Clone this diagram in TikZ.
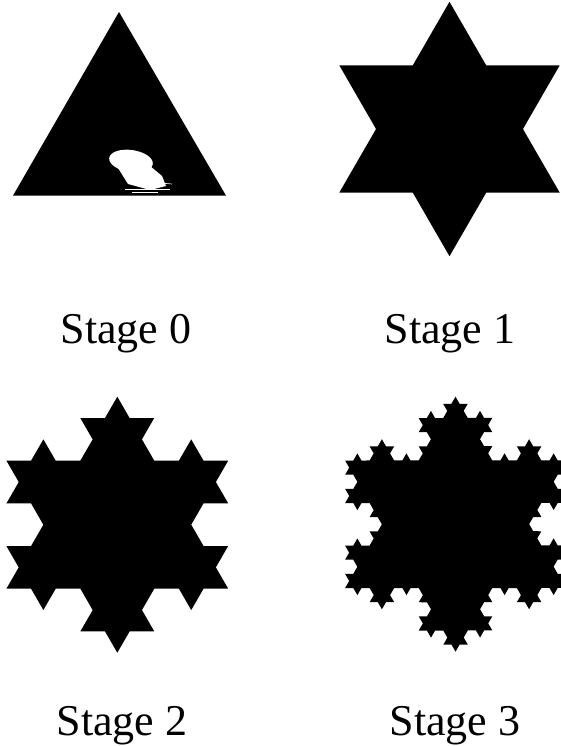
\documentclass[tikz,border=0pt]{standalone}
\usepackage{fontspec}
\setmainfont{Liberation Serif}
\usetikzlibrary{decorations.fractals}
\tikzset{
  shape fill/.style={fill=black},
  label text/.style={anchor=base, inner sep=0pt, font=\fontsize{44}{50}\selectfont},
  koch/.style={decoration={Koch snowflake}}
}
\begin{document}
\begin{tikzpicture}[x=1pt,y=-1pt]
\useasboundingbox (0,0) rectangle (561,746);
\clip (0,0) rectangle (561,746);
% Stage 0
\fill[shape fill] (119,12) -- (226,195.6) -- (13,195.6) -- cycle;
\fill[white, rotate around={-8:(131,161)}] (131,161) ellipse [x radius=22, y radius=11];
\fill[white] (118,168) -- (150,166) -- (162,176) -- (166,186) -- (150,190) -- (128,184) -- cycle;
\draw[white, line width=0.8] (125,189) -- (170,189);
\draw[white, line width=0.6] (132,192) -- (158,192);
\draw[white, line width=0.6] (160,183) -- (172,184);
% Stage 1
\fill[shape fill, koch] decorate{ (449.5,1.8) -- (559.7,192.6) -- (339.3,192.6) -- (449.5,1.8) };
% Stage 2
\fill[shape fill, koch] decorate{ decorate{ (117.3,396.7) -- (228.2,588.7) -- (6.4,588.7) -- (117.3,396.7) } };
% Stage 3
\fill[shape fill, koch] decorate{ decorate{ decorate{ (455.5,396.7) -- (565.9,588) -- (345.1,588) -- (455.5,396.7) } } };
% Labels
\node[label text] (s0) at (126,343) {Stage 0};
\node[label text] (s1) at (450,343) {Stage 1};
\node[label text] (s2) at (122,735) {Stage 2};
\node[label text] (s3) at (455,735) {Stage 3};
\end{tikzpicture}
\end{document}
